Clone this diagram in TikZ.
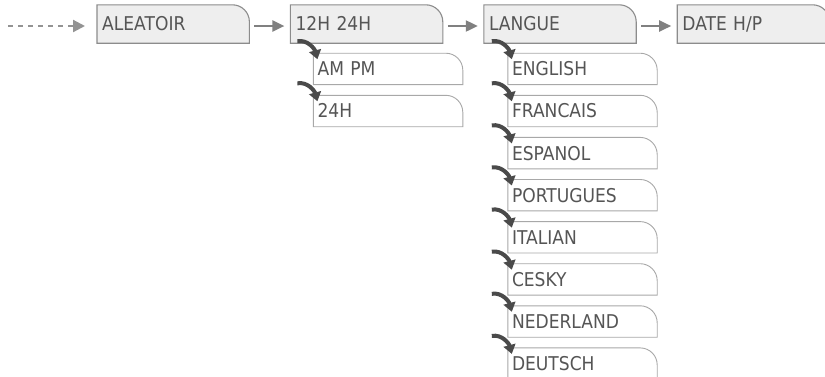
\documentclass[tikz,border=0pt]{standalone}
\usepackage{fontspec}
\setmainfont{DejaVu Sans}[FakeStretch=0.9]
\usepackage{tikz}
\usetikzlibrary{arrows.meta,positioning,backgrounds}
\definecolor{framec}{HTML}{8C8C8C}
\definecolor{subframec}{HTML}{A8A8A8}
\definecolor{tabbg}{HTML}{EEEEEE}
\definecolor{inkc}{HTML}{555555}
\definecolor{flowc}{HTML}{808080}
\definecolor{hookc}{HTML}{4A4A4A}
\tikzset{
  mainbox/.style={text width=142pt,inner xsep=5pt,inner ysep=0pt,minimum height=38pt,
    text height=13.9pt,text depth=0pt,align=left,font=\fontsize{19}{19}\selectfont,text=inkc},
  subbox/.style={text width=141pt,inner xsep=4pt,inner ysep=0pt,minimum height=31pt,
    text height=13.9pt,text depth=0pt,align=left,font=\fontsize{19}{19}\selectfont,text=inkc},
  mainframe/.style={draw=framec,line width=1.1pt,fill=tabbg},
  subframe/.style={draw=subframec,line width=0.9pt,fill=white},
  flow/.style={-{Triangle[length=12pt,width=11pt]},line width=2.2pt,flowc,shorten <=5pt,shorten >=6pt},
  feed/.style={-{Triangle[length=12pt,width=12pt]},line width=2.2pt,flowc!85,dash pattern=on 5pt off 5pt},
  hook/.style={-{Triangle[length=9pt,width=12pt]},line width=4pt,hookc}
}
% tab outline with one round corner
\newcommand{\tabframe}[2]{\draw[#1] (#2.south west) -- (#2.north west) -- ([xshift=-17pt]#2.north east)
  arc[start angle=90,end angle=0,radius=17pt] -- (#2.south east) -- cycle;}

\begin{document}
\begin{tikzpicture}[x=1pt,y=1pt]
\useasboundingbox (0,0) rectangle (825,-376);

% main row
\node[mainbox,anchor=west] (alea) at (97,-24) {ALEATOIR};
\node[mainbox,right=41pt of alea] (hours) {12H 24H};
\node[mainbox,right=41pt of hours] (langue) {LANGUE};
\node[mainbox,right=41pt of langue] (datehp) {DATE H/P};

% hour formats
\node[subbox,anchor=north west] (ampm) at ([xshift=23pt,yshift=-10pt]hours.south west) {AM PM};
\node[subbox,below=10.7pt of ampm] (h24) {24H};

% languages
\node[subbox,anchor=north west] (english) at ([xshift=24pt,yshift=-10pt]langue.south west) {ENGLISH};
\node[subbox,below=10.7pt of english] (francais) {FRANCAIS};
\node[subbox,below=10.7pt of francais] (espanol) {ESPANOL};
\node[subbox,below=10.7pt of espanol] (portugues) {PORTUGUES};
\node[subbox,below=10.7pt of portugues] (italian) {ITALIAN};
\node[subbox,below=10.7pt of italian] (cesky) {CESKY};
\node[subbox,below=10.7pt of cesky] (nederland) {NEDERLAND};
\node[subbox,below=10.7pt of nederland] (deutsch) {DEUTSCH};

\begin{scope}[on background layer]
\foreach \n in {alea,hours,langue,datehp}{\tabframe{mainframe}{\n}}
\foreach \n in {ampm,h24,english,francais,espanol,portugues,italian,cesky,nederland,deutsch}{\tabframe{subframe}{\n}}
\end{scope}

\coordinate (entry) at (8,-26);
\draw[feed] (entry) -- ([yshift=-2pt,xshift=-12pt]alea.west);
\draw[flow] ([yshift=-2pt]alea.east) -- ([yshift=-2pt]hours.west);
\draw[flow] ([yshift=-2pt]hours.east) -- ([yshift=-2pt]langue.west);
\draw[flow] ([yshift=-2pt]langue.east) -- ([yshift=-2pt]datehp.west);

\foreach \n in {ampm,h24,english,francais,espanol,portugues,italian,cesky,nederland,deutsch}{
  \draw[hook] ([xshift=-16pt,yshift=12pt]\n.north west) to[out=10,in=105] ([xshift=4pt,yshift=-6pt]\n.north west);
}
\end{tikzpicture}
\end{document}
